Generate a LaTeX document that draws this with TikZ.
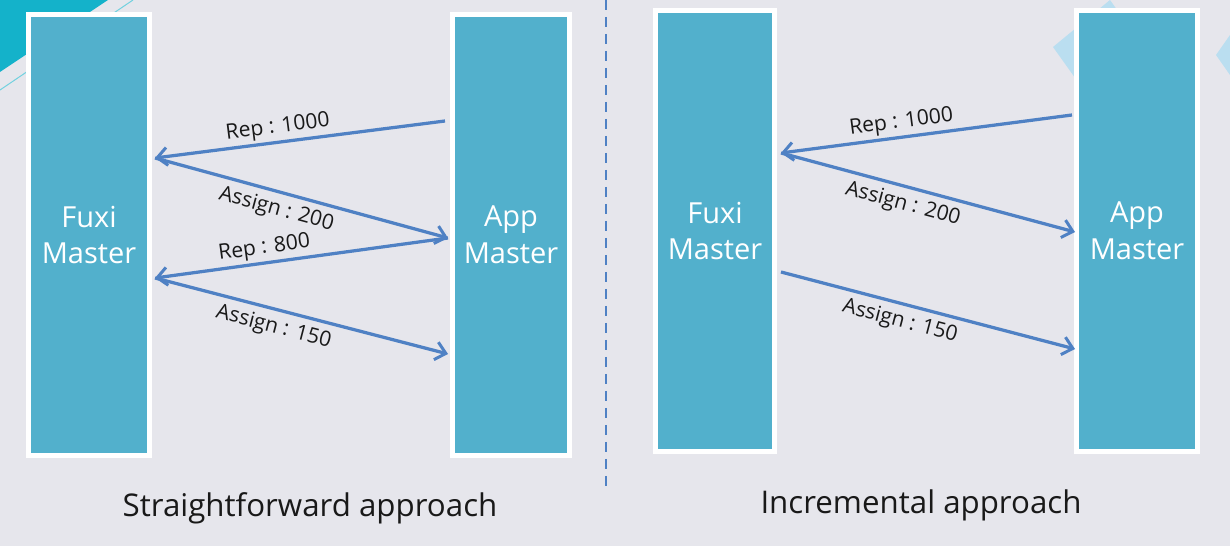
\documentclass[tikz,border=0pt]{standalone}
\usepackage{fontspec}
\setmainfont{Open Sans}
\usetikzlibrary{arrows.meta}
\definecolor{bgcol}{RGB}{230,230,236}
\definecolor{boxcol}{RGB}{82,176,204}
\definecolor{arrcol}{RGB}{79,129,196}
\definecolor{decocyan}{RGB}{20,178,202}
\definecolor{decolight}{RGB}{186,222,240}
\tikzset{
  masterbox/.style={draw=white, line width=0.1cm, fill=boxcol, text=white,
    align=center, font=\fontsize{16.5}{21}\selectfont, inner sep=0pt},
  msg/.style={draw=arrcol, line width=0.065cm, -{Straight Barb[length=0.2cm,width=0.36cm,line width=0.06cm]}},
  lbl/.style={sloped, font=\fontsize{12}{13}\selectfont, text=black!90, inner sep=2pt},
  lblup/.style={lbl, above, inner sep=1.5pt},
  lbldown/.style={lbl, below, inner sep=3.5pt},
  caption/.style={font=\fontsize{17.8}{20}\selectfont, text=black!90},
  divider/.style={draw=arrcol, line width=0.05cm, dash pattern=on 0.2cm off 0.14cm}
}
\begin{document}
\begin{tikzpicture}[x=0.02cm, y=-0.02cm]
\useasboundingbox (0,0) rectangle (1230,546);
\fill[bgcol] (0,0) rectangle (1230,546);
% slide decorations
\fill[decocyan] (0,0) -- (108,0) -- (0,72) -- cycle;
\draw[decocyan!60, line width=0.02cm] (133,0) -- (0,90);
\fill[decolight] (1053,47) -- (1110,0) -- (1150,56) -- (1093,103) -- cycle;
\fill[decolight] (1230,35) -- (1216,55) -- (1230,75) -- cycle;
% divider
\draw[divider] (606,0) -- (606,490);
% boxes
\node[masterbox, minimum width=2.42cm, minimum height=8.82cm] (fuxiL) at (89,235) {Fuxi\\Master};
\node[masterbox, minimum width=2.34cm, minimum height=8.82cm] (appL) at (511,235) {App\\Master};
\node[masterbox, minimum width=2.38cm, minimum height=8.82cm] (fuxiR) at (715,231) {Fuxi\\Master};
\node[masterbox, minimum width=2.42cm, minimum height=8.82cm] (appR) at (1137,231) {App\\Master};
% connector end points
\coordinate (l1) at (445,121);
\coordinate (l2) at (155,158);
\coordinate (l3) at (448,238);
\coordinate (l4) at (155,278);
\coordinate (l5) at (448,354);
\coordinate (r1) at (1072,115);
\coordinate (r2) at (781,153);
\coordinate (r3) at (1075,232);
\coordinate (r4) at (781,272);
\coordinate (r5) at (1075,349);
% left arrows
\draw[msg] (l1) -- node[lblup, pos=0.57] {Rep : 1000} (l2);
\draw[msg] (l2) -- node[lbldown, pos=0.43] {Assign : 200} (l3);
\draw[msg] (l3) -- node[lblup, pos=0.62] {Rep : 800} (l4);
\draw[msg] (l4) -- node[lbldown, pos=0.42] {Assign : 150} (l5);
% right arrows
\draw[msg] (r1) -- node[lblup, pos=0.58] {Rep : 1000} (r2);
\draw[msg] (r2) -- node[lbldown, pos=0.43] {Assign : 200} (r3);
\draw[msg] (r4) -- node[lbldown, pos=0.42] {Assign : 150} (r5);
% captions
\node[caption] (capL) at (310,508) {Straightforward approach};
\node[caption] (capR) at (921,505) {Incremental approach};
\end{tikzpicture}
\end{document}
